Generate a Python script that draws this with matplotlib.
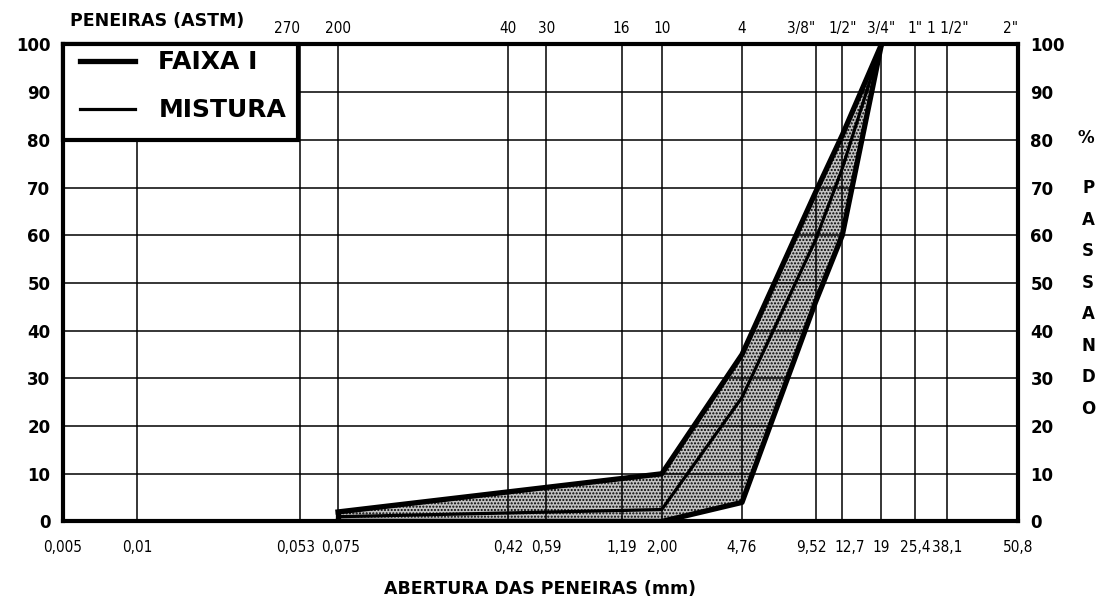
import numpy as np
import matplotlib.pyplot as plt
from matplotlib.patches import Rectangle
from matplotlib.transforms import ScaledTranslation

plt.rcParams['font.family'] = ['DejaVu Sans']
plt.rcParams['font.weight'] = 'bold'
plt.rcParams['hatch.linewidth'] = 1.0

# aberturas marcadas no papel (mm) e seus rotulos
aberturas = [0.005, 0.01, 0.053, 0.075, 0.42, 0.59, 1.19, 2.00, 4.76,
             9.52, 12.7, 19, 25.4, 38.1, 50.8]
rotulos_mm = ['0,005', '0,01', '0,053', '0,075', '0,42', '0,59', '1,19',
              '2,00', '4,76', '9,52', '12,7', '19', '25,4', '38,1', '50,8']

# numeracao ASTM das peneiras
peneiras_mm = [0.053, 0.075, 0.42, 0.59, 1.19, 2.00, 4.76, 9.52, 12.7,
               19, 25.4, 38.1, 50.8]
peneiras_astm = ['270', '200', '40', '30', '16', '10', '4', '3/8"', '1/2"',
                 '3/4"', '1"', '1 1/2"', '2"']

# granulometria (% passando)
peneiras_ensaio = [0.075, 2.00, 4.76, 9.52, 12.7, 19]
faixa_sup = [2, 10, 35, 69, 81, 100]
faixa_inf = [0, 0, 4, 46, 60, 100]
mistura = [1, 2.5, 26, 59, 74, 100]

# posicao de cada abertura ao longo do papel (fracao da largura)
posicao = [0, 0.0775, 0.248, 0.288, 0.466, 0.506, 0.585, 0.627, 0.711,
           0.788, 0.816, 0.857, 0.892, 0.926, 1]

# afastamento (pt) dos rotulos que ficariam encostados
afastar = {'0,053': -3, '0,075': 2, '9,52': -3, '12,7': 5}

log_ab = np.log10(aberturas)


def para_papel(x):
    x = np.clip(np.asarray(x, dtype=float), 1e-9, None)
    return np.interp(np.log10(x), log_ab, posicao)


def do_papel(p):
    return 10 ** np.interp(p, posicao, log_ab)


def fonte_estreita(rotulos):
    for lbl in rotulos:
        lbl.set_fontweight('normal')
        lbl.set_family('DejaVu Sans')
        lbl.set_fontstretch('condensed')


fig = plt.figure(figsize=(11.07, 5.97), dpi=100)
ax = fig.add_axes([0.0569, 0.1265, 0.8627, 0.799])
ax.set_xscale('function', functions=(para_papel, do_papel))
ax.set_xlim(0.005, 50.8)
ax.set_ylim(0, 100)

ax.set_xticks(aberturas, rotulos_mm)
ax.set_yticks(range(0, 101, 10))
ax.grid(True, color='black', lw=1.1)
ax.tick_params(axis='x', length=0, pad=13, labelsize=11)
ax.tick_params(axis='y', length=0, pad=9, labelsize=12,
               labelleft=True, labelright=True)
fonte_estreita(ax.get_xticklabels())
for tick, rot in zip(ax.xaxis.get_major_ticks(), rotulos_mm):
    dx = afastar.get(rot, 0)
    if dx:
        tick.label1.set_transform(tick.label1.get_transform() +
                                  ScaledTranslation(dx / 72, 0,
                                                    fig.dpi_scale_trans))
for sp in ax.spines.values():
    sp.set_linewidth(3)

# faixa I pontilhada
x_faixa = peneiras_ensaio + peneiras_ensaio[::-1]
y_faixa = faixa_sup + faixa_inf[::-1]
ax.fill(x_faixa, y_faixa, facecolor='#c2c2c2', edgecolor='black',
        hatch='.....', lw=0, zorder=1)

l_faixa, = ax.plot(peneiras_ensaio, faixa_sup, color='black', lw=3.8,
                   label='FAIXA I', zorder=3)
ax.plot(peneiras_ensaio, faixa_inf, color='black', lw=3.8, zorder=3)
ax.vlines(peneiras_ensaio[0], faixa_inf[0], faixa_sup[0], color='black',
          lw=3.8, zorder=3)
l_mist, = ax.plot(peneiras_ensaio, mistura, color='black', lw=2.3,
                  label='MISTURA', zorder=3)

# quadro da legenda encostado no canto superior esquerdo
ax.add_patch(Rectangle((0, 0.8), 0.246, 0.2, transform=ax.transAxes,
                       facecolor='white', edgecolor='black', lw=3,
                       zorder=4, clip_on=False))
ax.legend(handles=[l_faixa, l_mist], loc='upper left',
          bbox_to_anchor=(0.012, 1), borderaxespad=0, borderpad=0.24,
          labelspacing=0.96, handlelength=2.2, handletextpad=0.92,
          frameon=False, prop={'size': 18, 'weight': 'bold'})

# numeracao ASTM no topo
ax_topo = ax.twiny()
ax_topo.set_xscale('function', functions=(para_papel, do_papel))
ax_topo.set_xlim(ax.get_xlim())
ax_topo.set_xticks(peneiras_mm, peneiras_astm)
ax_topo.tick_params(axis='x', length=0, pad=6, labelsize=11)
fonte_estreita(ax_topo.get_xticklabels())
for lbl in ax_topo.get_xticklabels():
    if lbl.get_text() in ('270', '3/8"', '2"'):
        lbl.set_ha('right')
for sp in ax_topo.spines.values():
    sp.set_visible(False)

fig.text(0.142, 0.965, 'PENEIRAS (ASTM)', ha='center', va='center',
         fontsize=12.5)
ax.set_xlabel('ABERTURA DAS PENEIRAS (mm)', fontsize=12.5,
              fontweight='bold', labelpad=18)

fig.text(0.981, 0.769, '%', ha='center', va='center', fontsize=12)
for i, letra in enumerate('PASSANDO'):
    fig.text(0.983, 0.685 - i * 0.0528, letra, ha='center', va='center',
             fontsize=12)

fig.savefig('out.png', dpi=100)
